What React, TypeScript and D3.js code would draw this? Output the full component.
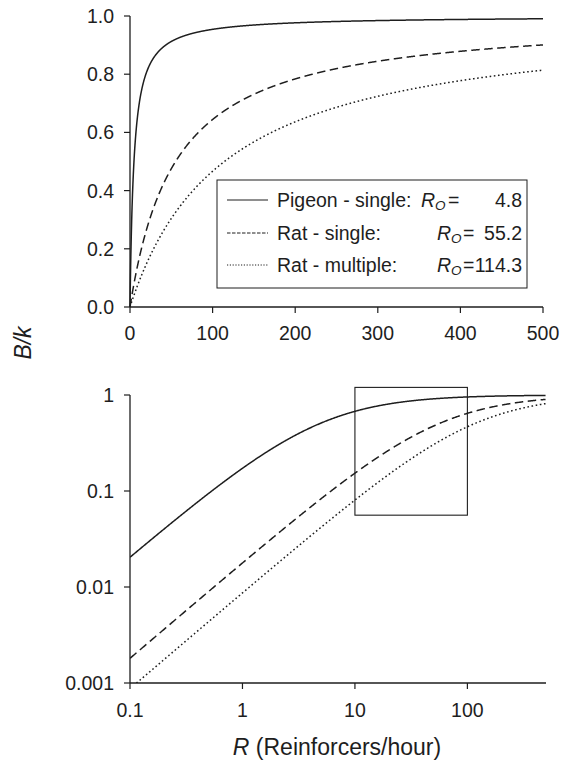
import React from "react";
import * as d3 from "d3";

// Herrnstein hyperbola B/k = R / (R + Ro), one curve per condition
const seriesNames = ["Pigeon - single:", "Rat - single:", "Rat - multiple:"];
const roValues = [4.8, 55.2, 114.3];
const roLabels = ["4.8", "55.2", "114.3"];
const dashes = ["none", "8.5,4.5", "1.6,2.6"];
const legendDashes = ["none", "3.5,1.5", "1.2,1.6"];

const topXTicks = [0, 100, 200, 300, 400, 500];
const topYTicks = [0, 0.2, 0.4, 0.6, 0.8, 1.0];
const botXTicks = [0.1, 1, 10, 100];
const botYTicks = [0.001, 0.01, 0.1, 1];
const botXLabels = ["0.1", "1", "10", "100"];
const botYLabels = ["0.001", "0.01", "0.1", "1"];

// region marked on the log plot
const boxR = [10, 100];
const boxB = [0.056, 1.2];

const W = 569;
const H = 762;
const FONT = "'Liberation Sans', Arial, sans-serif";
const INK = "#1e1e1e";

const hyper = (R: number, ro: number) => R / (R + ro);

export default function App() {
  const xTop = d3.scaleLinear().domain([0, 500]).range([130, 543]);
  const yTop = d3.scaleLinear().domain([0, 1]).range([307, 16]);
  const xBot = d3.scaleLog().domain([0.1, 500]).range([130, 546]);
  const yBot = d3.scaleLog().domain([0.001, 1]).range([683, 395]);

  const gridTop = d3.range(0, 500.001, 0.25);
  const gridBot = d3.range(-1, Math.log10(500) + 1e-9, 0.005).map((e) => Math.pow(10, e));

  const lineTop = d3
    .line<number>()
    .x((r) => xTop(r))
    .y((r) => yTop(r));

  const lineBot = d3
    .line<[number, number]>()
    .x((d) => xBot(d[0]))
    .y((d) => yBot(d[1]));

  const tickFont = 19.5;
  const legFont = 19.5;
  const rowY = [200, 233, 265];
  const rX = [421, 437, 437];
  const eqX = [448, 463, 463];

  return (
    <div style={{ position: "absolute", left: 0, top: 0 }}>
      <svg width={W} height={H} style={{ display: "block", background: "#fff" }} fontFamily={FONT}>
        <defs>
          <clipPath id="clipBot">
            <rect x={130} y={380} width={430} height={303} />
          </clipPath>
        </defs>

        {/* ---------- top panel: linear axes ---------- */}
        <g>
          {roValues.map((ro, i) => (
            <path
              key={"t" + i}
              d={lineTop.y((r) => yTop(hyper(r, ro)))(gridTop) || ""}
              fill="none"
              stroke={INK}
              strokeWidth={1.5}
              strokeDasharray={dashes[i]}
            />
          ))}
          <line x1={130} x2={130} y1={yTop(1)} y2={yTop(0)} stroke={INK} strokeWidth={1.3} />
          <line x1={130} x2={543} y1={yTop(0)} y2={yTop(0)} stroke={INK} strokeWidth={1.3} />
          {topYTicks.map((t) => (
            <g key={"ty" + t}>
              <line x1={124} x2={130} y1={yTop(t)} y2={yTop(t)} stroke={INK} strokeWidth={1.2} />
              <text
                x={114}
                y={yTop(t)}
                textAnchor="end"
                dominantBaseline="central"
                fontSize={tickFont}
                fill={INK}
              >
                {d3.format(".1f")(t)}
              </text>
            </g>
          ))}
          {topXTicks.map((t) => (
            <g key={"tx" + t}>
              <line x1={xTop(t)} x2={xTop(t)} y1={yTop(0)} y2={yTop(0) + 6} stroke={INK} strokeWidth={1.2} />
              <text x={xTop(t)} y={333} textAnchor="middle" dominantBaseline="central" fontSize={tickFont} fill={INK}>
                {t}
              </text>
            </g>
          ))}

          {/* legend */}
          <rect x={217} y={180} width={310} height={108} fill="#fff" stroke={INK} strokeWidth={1} />
          {seriesNames.map((name, i) => {
            const cy = rowY[i];
            return (
              <g key={"lg" + i}>
                <line
                  x1={227}
                  x2={268}
                  y1={cy}
                  y2={cy}
                  stroke={INK}
                  strokeWidth={1}
                  strokeDasharray={legendDashes[i]}
                />
                <text x={277} y={cy} dominantBaseline="central" fontSize={legFont} fill={INK}>
                  {name}
                </text>
                <text x={rX[i]} y={cy} dominantBaseline="central" fontSize={legFont} fill={INK} fontStyle="italic">
                  R
                  <tspan fontSize={13.5} dy={5}>
                    O
                  </tspan>
                </text>
                <text x={eqX[i]} y={cy} dominantBaseline="central" fontSize={legFont} fill={INK}>
                  =
                </text>
                <text x={522} y={cy} textAnchor="end" dominantBaseline="central" fontSize={legFont} fill={INK}>
                  {roLabels[i]}
                </text>
              </g>
            );
          })}
        </g>

        {/* shared y title */}
        <text
          transform="translate(23,343) rotate(-90)"
          textAnchor="middle"
          dominantBaseline="central"
          fontSize={23}
          fontStyle="italic"
          fill={INK}
        >
          B/k
        </text>

        {/* ---------- bottom panel: log-log axes ---------- */}
        <g>
          <g clipPath="url(#clipBot)">
            {roValues.map((ro, i) => (
              <path
                key={"b" + i}
                d={
                  lineBot(
                    gridBot
                      .map((r) => [r, hyper(r, ro)] as [number, number])
                      .filter((d) => d[1] >= 0.00085)
                  ) || ""
                }
                fill="none"
                stroke={INK}
                strokeWidth={1.5}
                strokeDasharray={dashes[i]}
              />
            ))}
          </g>
          <rect
            x={xBot(boxR[0])}
            y={yBot(boxB[1])}
            width={xBot(boxR[1]) - xBot(boxR[0])}
            height={yBot(boxB[0]) - yBot(boxB[1])}
            fill="none"
            stroke={INK}
            strokeWidth={1.1}
          />
          <line x1={130} x2={130} y1={yBot(1)} y2={yBot(0.001)} stroke={INK} strokeWidth={1.3} />
          <line x1={130} x2={546} y1={yBot(0.001)} y2={yBot(0.001)} stroke={INK} strokeWidth={1.3} />
          {botYTicks.map((t, i) => (
            <g key={"by" + t}>
              <line x1={124} x2={130} y1={yBot(t)} y2={yBot(t)} stroke={INK} strokeWidth={1.2} />
              <text x={114} y={yBot(t)} textAnchor="end" dominantBaseline="central" fontSize={tickFont} fill={INK}>
                {botYLabels[i]}
              </text>
            </g>
          ))}
          {botXTicks.map((t, i) => (
            <g key={"bx" + t}>
              <line x1={xBot(t)} x2={xBot(t)} y1={yBot(0.001)} y2={yBot(0.001) + 6} stroke={INK} strokeWidth={1.2} />
              <text x={xBot(t)} y={710} textAnchor="middle" dominantBaseline="central" fontSize={tickFont} fill={INK}>
                {botXLabels[i]}
              </text>
            </g>
          ))}
          <text x={337} y={747} textAnchor="middle" dominantBaseline="central" fontSize={23} fill={INK}>
            <tspan fontStyle="italic">R</tspan> (Reinforcers/hour)
          </text>
        </g>
      </svg>
    </div>
  );
}
